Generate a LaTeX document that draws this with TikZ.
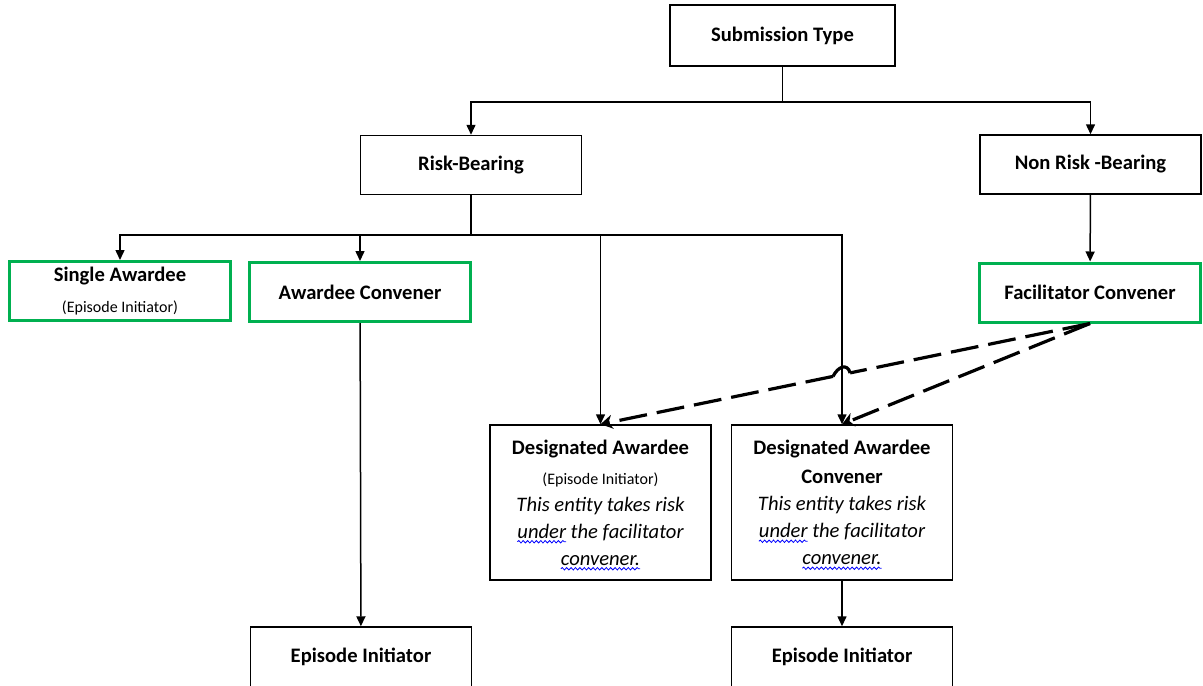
\documentclass[tikz,border=0pt]{standalone}
\usepackage{fontspec}
\setmainfont{Carlito}
\usepackage{xcolor}
\usetikzlibrary{arrows.meta, calc, decorations.pathmorphing}
\definecolor{officegreen}{RGB}{0,176,80}
\newlength{\squigwd}
\newcommand{\squig}[1]{\settowidth{\squigwd}{#1}\rlap{\tikz[baseline=0pt]\draw[overlay, blue, line width=0.4pt, decorate, decoration={snake, amplitude=0.6pt, segment length=2.2pt}] (0pt,-1.8pt) -- (\squigwd,-1.8pt);}#1}
\newcommand{\smalltext}[1]{{\mdseries\fontsize{8}{10}\selectfont #1}}
\newcommand{\note}[1]{{\mdseries\itshape #1}}
\tikzset{
    box/.style = {draw, line width=0.75pt, minimum width=110.5pt, minimum height=29.5pt, inner sep=0pt, align=center, font=\fontsize{10.3}{13.5}\selectfont\bfseries},
    green box/.style = {box, draw=officegreen, line width=1.5pt},
    link/.style = {line width=0.75pt, -{Triangle[width=4.5pt,length=5pt]}},
    dash line/.style = {line width=1.6pt, dash pattern=on 14pt off 5pt},
    dash link/.style = {dash line, -{Stealth[width=7pt,length=6pt]}}
}

\begin{document}
\begin{tikzpicture}[x=0.5pt, y=-0.5pt]
    \useasboundingbox (0,0) rectangle (1203,685);
    \clip (0,0) rectangle (1203,685);
    \node[box, minimum width=112.5pt, minimum height=30.5pt] (st) at (782.5,35.5) {Submission Type};
    \node[box] (rb) at (471,165) {Risk-Bearing};
    \node[box] (nrb) at (1090.5,164.5) {Non Risk -Bearing};
    \node[green box] (sa) at (120,291) {Single Awardee\\[2pt]\smalltext{(Episode Initiator)}};
    \node[green box] (ac) at (360,292) {Awardee Convener};
    \node[green box] (fc) at (1090,292.5) {Facilitator Convener};
    \node[box, minimum height=77.5pt] (da) at (600.5,502.5) {Designated Awardee\\[1.5pt]\smalltext{(Episode Initiator)}\\\note{This entity takes risk}\\\note{\squig{under} the facilitator}\\\note{\squig{convener.}}};
    \node[box, minimum height=77.5pt] (dac) at (842,502.5) {Designated Awardee\\[1pt]Convener\\\note{This entity takes risk}\\\note{\squig{under} the facilitator}\\\note{\squig{convener.}}};
    \node[box, minimum height=30pt] (ei1) at (361,657) {Episode Initiator};
    \node[box, minimum height=30pt] (ei2) at (842,657) {Episode Initiator};

    \coordinate (j1) at (782.5,102);
    \coordinate (j2) at (471,235);
    \draw[line width=0.75pt] (st) -- (j1);
    \draw[link] (j1) -| (rb);
    \draw[link] (j1) -| (nrb);
    \draw[line width=0.75pt] (rb) -- (j2);
    \foreach \n in {sa, ac, da, dac}
        \draw[link] (j2) -| (\n);
    \draw[link] (nrb) -- (fc);
    \draw[link] (ac) -- (ei1);
    \draw[link] (dac) -- (ei2);

    \coordinate (h1) at ($(fc.south)!0.49!(da.north)$);
    \coordinate (h2) at ($(fc.south)!0.525!(da.north)$);
    \draw[dash line] (fc.south) -- (h1);
    \draw[line width=1.6pt] (h1) .. controls +(-3,-10) and +(5,-10) .. (h2);
    \draw[dash link] (h2) -- (da.north);
    \draw[dash link] (fc.south) -- (dac.north);
\end{tikzpicture}
\end{document}
